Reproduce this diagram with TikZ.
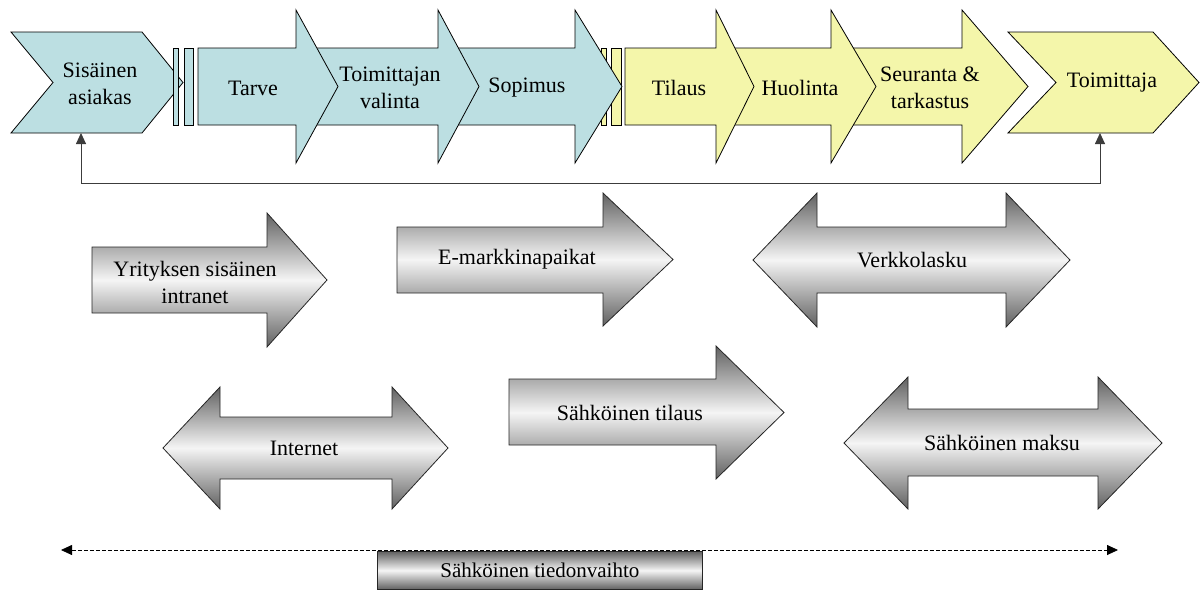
\documentclass[tikz,border=0pt]{standalone}
\usepackage{fontspec}
\setmainfont{Liberation Serif}
\usetikzlibrary{arrows.meta}
\definecolor{procblue}{RGB}{188,223,226}
\definecolor{procyellow}{RGB}{244,246,170}
\definecolor{linegray}{RGB}{60,60,60}

% right-pointing block arrow: style, body left, head start, tip, body top, body bottom, head top, head bottom
\newcommand\rightarr[8]{%
  \draw[#1] (#2,#5) -- (#3,#5) -- (#3,#7) -- (#4,{(#7+#8)/2}) -- (#3,#8) -- (#3,#6) -- (#2,#6) -- cycle;}
% two-headed block arrow: style, left tip, left head end, right head start, right tip, body top, body bottom, head top, head bottom
\newcommand\bothwayarr[9]{%
  \draw[#1] (#2,{(#8+#9)/2}) -- (#3,#8) -- (#3,#6) -- (#4,#6) -- (#4,#8) -- (#5,{(#8+#9)/2})
    -- (#4,#9) -- (#4,#7) -- (#3,#7) -- (#3,#9) -- cycle;}

\begin{document}
\begin{tikzpicture}[x=1pt,y=-1pt,
  outline/.style={draw=black,line width=0.8pt,line join=miter},
  bluebox/.style={outline,fill=procblue},
  yellowbox/.style={outline,fill=procyellow},
  grayshade/.style={draw=black!85,line width=0.8pt,top color=black!62,bottom color=black!62,middle color=black!4},
  label/.style={font=\fontsize{22}{27}\selectfont,align=center,inner sep=0pt},
  feedback/.style={draw=linegray,line width=0.9pt,{Triangle[length=11pt,width=10pt]}-{Triangle[length=11pt,width=10pt]}},
  exchange/.style={draw=black,line width=0.8pt,dashed,dash pattern=on 4pt off 2pt,{Triangle[length=11pt,width=10pt]}-{Triangle[length=11pt,width=10pt]}}]
\useasboundingbox (0,0) rectangle (1200,592);

% ---- procurement process, top row ----
\draw[bluebox] (11,32) -- (142,32) -- (183,82.5) -- (142,133) -- (11,133) -- (53,82.5) -- cycle;
\draw[bluebox] (173,48) rectangle (178,125);
\draw[bluebox] (184,48) rectangle (193,125);

\draw[yellowbox] (601,48) rectangle (606,125);
\draw[yellowbox] (611,48) rectangle (621,125);

\rightarr{bluebox}{440}{575}{622}{48}{125}{10}{163}
\rightarr{bluebox}{300}{438}{479}{48}{125}{10}{163}
\rightarr{bluebox}{198}{296}{338}{48}{125}{10}{163}

\rightarr{yellowbox}{840}{962}{1028}{48}{125}{10}{163}
\rightarr{yellowbox}{720}{831}{876}{48}{125}{10}{163}
\rightarr{yellowbox}{625}{716}{754}{48}{125}{10}{163}

\draw[yellowbox] (1008,32) -- (1153,32) -- (1199,82.5) -- (1153,133) -- (1008,133) -- (1056,82.5) -- cycle;

\node[label] (sisas) at (100,84) {Sisäinen\\asiakas};
\node[label] (tarve) at (253,88) {Tarve};
\node[label] (valinta) at (390,88) {Toimittajan\\valinta};
\node[label] (sopimus) at (527,88) {Sopimus};
\node[label] (tilaus) at (679,88) {Tilaus};
\node[label] (huolinta) at (800,88) {Huolinta};
\node[label] (seuranta) at (930,88) {Seuranta \&\\tarkastus};
\node[label] (toimittaja) at (1112,83) {Toimittaja};

% feedback loop between customer and supplier
\coordinate (sisas-b) at (81,133);
\coordinate (toim-b) at (1100,133);
\draw[feedback] (sisas-b) -- (81,183) -| (toim-b);

% ---- enabling technologies ----
\rightarr{grayshade}{92}{267}{327}{247}{313}{213}{347}
\rightarr{grayshade}{397}{603}{673}{227}{293}{193}{326}
\bothwayarr{grayshade}{753}{817}{1006}{1070}{227}{293}{193}{327}
\bothwayarr{grayshade}{163}{220}{392}{448}{417}{479}{387}{509}
\rightarr{grayshade}{509}{716}{784}{379}{445}{346}{479}
\bothwayarr{grayshade}{844}{908}{1098}{1162}{409}{476}{377}{509}

\node[label] (intranet) at (195,282) {Yrityksen sisäinen\\intranet};
\node[label] (emarkkina) at (517,259) {E-markkinapaikat};
\node[label] (verkkolasku) at (912,260) {Verkkolasku};
\node[label] (internet) at (304,448) {Internet};
\node[label] (stilaus) at (630,413) {Sähköinen tilaus};
\node[label] (smaksu) at (1002,443) {Sähköinen maksu};

% ---- electronic data interchange ----
\coordinate (edi-l) at (61,550);
\coordinate (edi-r) at (1118,550);
\draw[exchange] (edi-l) -- (edi-r);
\node[grayshade,draw,minimum width=325pt,minimum height=38pt,inner sep=0pt,anchor=north west,
  font=\fontsize{21}{25}\selectfont] (edi) at (377,551) {Sähköinen tiedonvaihto};
\end{tikzpicture}
\end{document}
